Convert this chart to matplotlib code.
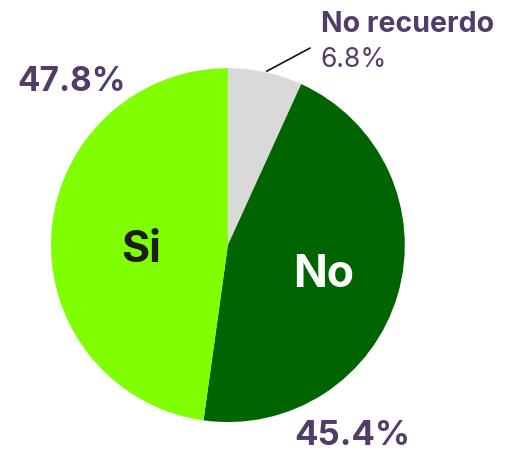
import matplotlib.pyplot as plt

# Data
labels = ['No recuerdo', 'No', 'Si']
values = [6.8, 45.4, 47.8]
colors = ['#d9d9d9', '#006400', '#80ff00']
purple = '#523d69'

plt.rcParams['font.family'] = ['Inter', 'DejaVu Sans']

fig = plt.figure(figsize=(5.12, 4.52), dpi=100)
# pie centre ~ (228, 246) px, radius ~177 px
ax = fig.add_axes([0.0996, 0.064, 0.691, 0.783])
ax.pie(values, colors=colors, startangle=90, counterclock=False,
       radius=1, wedgeprops=dict(linewidth=0))
ax.set_xlim(-1, 1)
ax.set_ylim(-1, 1)
ax.set_aspect('auto')
ax.axis('off')


def px(x, y):
    # convert image pixels to data coords
    return (x - 228) / 177, (246 - y) / 177


# inside labels
ax.text(*px(141, 250), 'Si', ha='center', va='center', fontsize=31,
        fontweight='bold', color='#1c1c1c')
ax.text(*px(324, 275), 'No', ha='center', va='center', fontsize=32,
        fontweight='bold', color='white')

# outside percentages
ax.text(*px(72, 82), f'{values[2]}%', ha='center', va='center', fontsize=24,
        fontweight='bold', color=purple, clip_on=False)
ax.text(*px(352, 436), f'{values[1]}%', ha='center', va='center', fontsize=25,
        fontweight='bold', color=purple, clip_on=False)

# No recuerdo callout
ax.text(*px(321, 24), labels[0], ha='left', va='center', fontsize=20.5,
        fontweight='bold', color=purple, clip_on=False)
ax.text(*px(321, 60), f'{values[0]}%', ha='left', va='center', fontsize=19,
        color=purple, clip_on=False)
x0, y0 = px(267, 72)
x1, y1 = px(310, 49)
ax.plot([x0, x1], [y0, y1], color='#111111', linewidth=1.2, clip_on=False)

fig.savefig('out.png', dpi=100, facecolor='white')
